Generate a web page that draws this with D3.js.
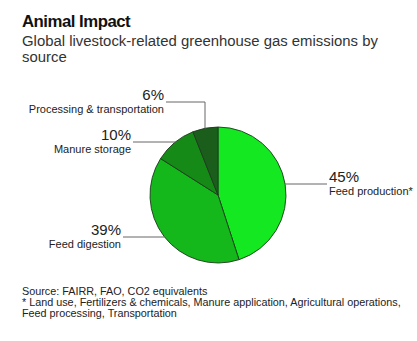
<!DOCTYPE html>
<html>
<head>
<meta charset="utf-8">
<script src="https://cdn.jsdelivr.net/npm/d3@7"></script>
<style>
  body { margin: 0; background: #fff; }
  text { font-family: "Liberation Sans", Arial, Helvetica, sans-serif; }
</style>
</head>
<body>
<svg id="chart" width="417" height="341"></svg>
<script>
const categories = ["Feed production*", "Feed digestion", "Manure storage", "Processing & transportation"];
const values = [45, 39, 10, 6];
const valueLabels = ["45%", "39%", "10%", "6%"];
const colors = ["#13e820", "#14b81a", "#168a16", "#1b5e1b"];

// label layout (leader line anchor y / x positions)
const labelLayout = [
  { side: "right", lineY: 184, textX: 329 },
  { side: "left", lineY: 237, textX: 121 },
  { side: "left", lineY: 142, textX: 131 },
  { side: "elbow", lineY: 102, textX: 164, elbowX: 205 }
];

const svg = d3.select("#chart");
const cx = 218, cy = 195, r = 68;

svg.append("text").attr("x", 22).attr("y", 27)
  .attr("font-size", 16.8).attr("font-weight", "bold").attr("letter-spacing", -0.5)
  .attr("fill", "#111").text("Animal Impact");
svg.append("text").attr("x", 22).attr("y", 46)
  .attr("font-size", 14.9).attr("fill", "#333").text("Global livestock-related greenhouse gas emissions by");
svg.append("text").attr("x", 22).attr("y", 62)
  .attr("font-size", 14.9).attr("fill", "#333").text("source");

const pie = d3.pie().sort(null).value(d => d)(values);
const arc = d3.arc().innerRadius(0).outerRadius(r);
const g = svg.append("g").attr("transform", `translate(${cx},${cy})`);
g.selectAll("path").data(pie).join("path")
  .attr("d", arc)
  .attr("fill", (d, i) => colors[i])
  .attr("stroke", "#1d3a1d").attr("stroke-width", 0.9);

const lines = svg.append("g");
labelLayout.forEach((L, i) => {
  const dy = L.lineY - cy;
  let path;
  if (L.side === "right") {
    const ex = cx + Math.sqrt(r * r - dy * dy);
    path = `M${ex},${L.lineY}H${L.textX - 2}`;
  } else if (L.side === "left") {
    const ex = cx - Math.sqrt(r * r - dy * dy);
    path = `M${L.textX + 2},${L.lineY}H${ex}`;
  } else {
    const dx = L.elbowX - cx;
    const ey = cy - Math.sqrt(r * r - dx * dx);
    path = `M${L.textX + 2},${L.lineY}H${L.elbowX}V${ey}`;
  }
  lines.append("path").attr("d", path).attr("fill", "none")
    .attr("stroke", "#666").attr("stroke-width", 1);
  const anchor = L.side === "right" ? "start" : "end";
  svg.append("text").attr("x", L.textX).attr("y", L.lineY - 2)
    .attr("text-anchor", anchor).attr("font-size", 15).attr("fill", "#222")
    .text(valueLabels[i]);
  svg.append("text").attr("x", L.textX).attr("y", L.lineY + 11)
    .attr("text-anchor", anchor).attr("font-size", 11).attr("fill", "#222")
    .text(categories[i]);
});

const foot = ["Source: FAIRR, FAO, CO2 equivalents",
  "* Land use, Fertilizers & chemicals, Manure application, Agricultural operations,",
  "Feed processing, Transportation"];
foot.forEach((t, i) => {
  svg.append("text").attr("x", 22).attr("y", 295 + i * 10.8)
    .attr("font-size", 10.8).attr("fill", "#222").text(t);
});
</script>
</body>
</html>
